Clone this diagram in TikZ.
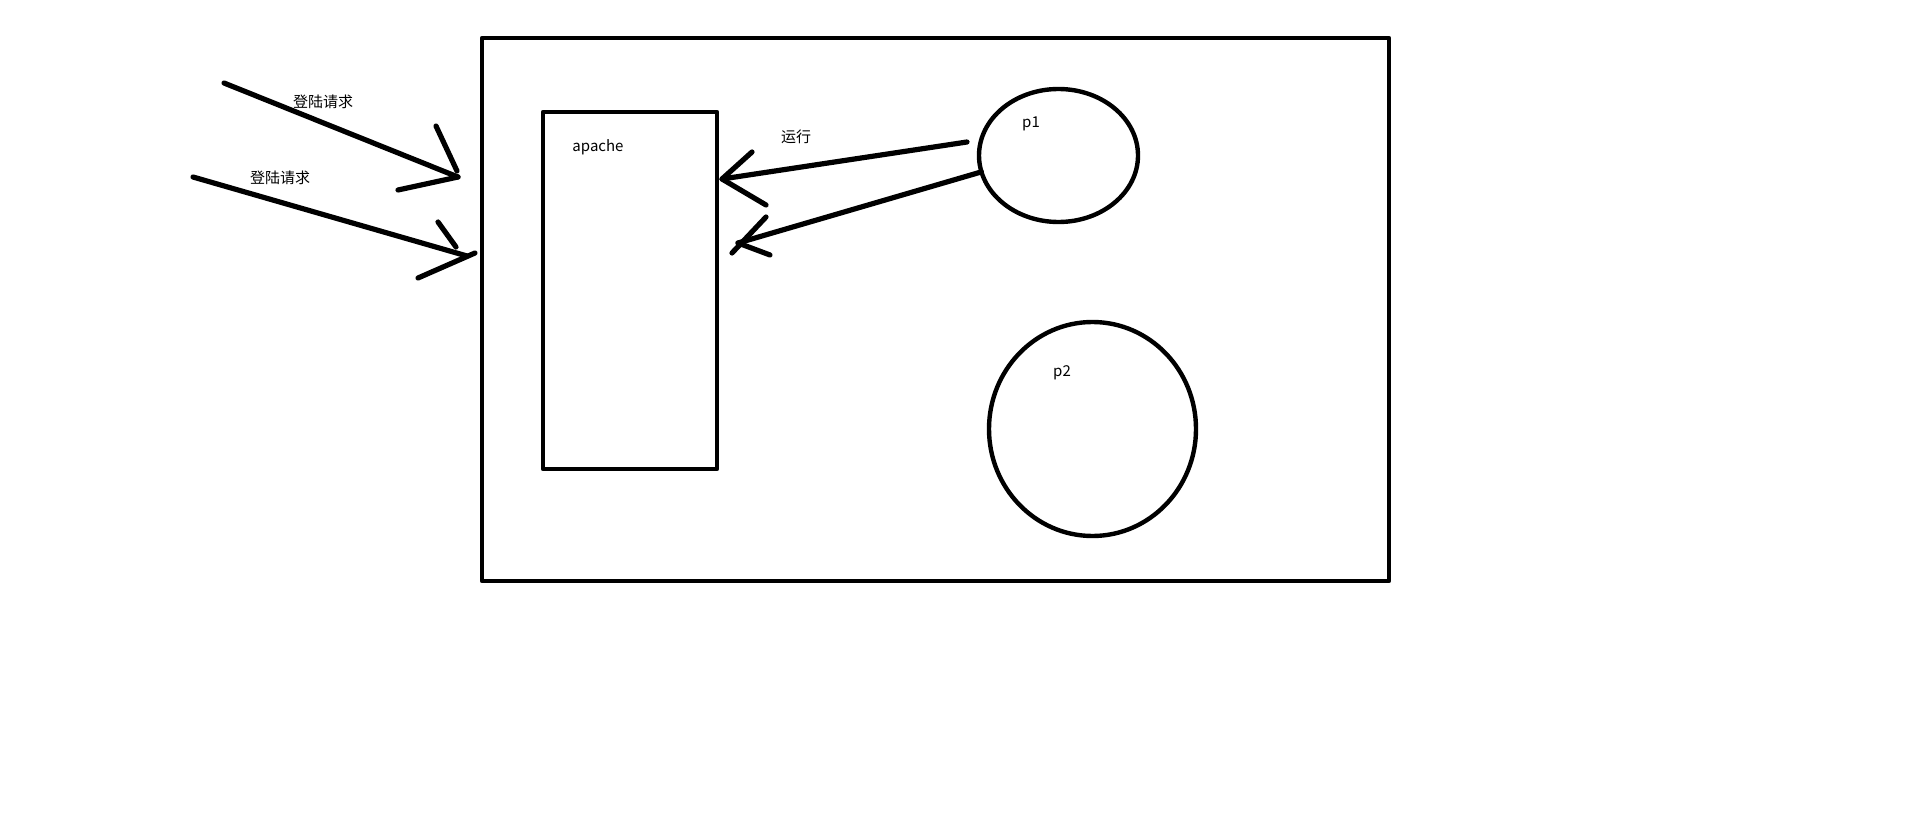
\documentclass[tikz,border=0pt]{standalone}
\usepackage{fontspec}
\setmainfont{Noto Sans CJK SC}
\usetikzlibrary{shapes.geometric}
\begin{document}
\begin{tikzpicture}[x=1pt,y=-1pt,line cap=round,line join=round,
  frame/.style={draw,line width=4.8pt,rectangle,inner sep=0pt,outer sep=0pt},
  blob/.style={draw,line width=4.4pt,ellipse,inner sep=0pt,outer sep=0pt},
  lbl/.style={inner sep=0pt,font=\fontsize{15}{17}\selectfont},
  stroke/.style={line width=5.2pt}]
\useasboundingbox (0,0) rectangle (1914,834);
\fill[white] (0,0) rectangle (1914,834);
% containers
\node[frame,minimum width=907pt,minimum height=543pt] (outer) at (935.5,309.5) {};
\node[frame,minimum width=174pt,minimum height=357pt] (apache) at (630,290.5) {};
\node[blob,minimum width=159pt,minimum height=133pt] (p1) at (1058.5,155.5) {};
\node[blob,minimum width=207pt,minimum height=214pt] (p2) at (1092.5,429) {};
% labels
\node[lbl] (tapache) at (598,147) {apache};
\node[lbl] (tp1) at (1031,124) {p1};
\node[lbl] (tp2) at (1062,373) {p2};
\node[lbl] (trun) at (796,137) {运行};
\node[lbl] (treq1) at (323,102) {登陆请求};
\node[lbl] (treq2) at (280,178) {登陆请求};
% login request arrows
\coordinate (a1s) at (224,83);
\coordinate (a1t) at (458,177);
\coordinate (a1h1) at (436,126);
\coordinate (a1h1e) at (457,171);
\coordinate (a1h2) at (398,190);
\coordinate (a2s) at (193,177);
\coordinate (a2t) at (467,256);
\coordinate (a2h1) at (438,222);
\coordinate (a2h1e) at (456,247);
\coordinate (a2h2) at (418,278);
\coordinate (a2h2e) at (475,253);
\draw[stroke] (a1s) -- (a1t);
\draw[stroke] (a1h1) -- (a1h1e);
\draw[stroke] (a1h2) -- (a1t);
\draw[stroke] (a2s) -- (a2t);
\draw[stroke] (a2h1) -- (a2h1e);
\draw[stroke] (a2h2) -- (a2h2e);
% run arrows
\coordinate (r1s) at (967,142);
\coordinate (r1t) at (722,179);
\coordinate (r1h1) at (752,152);
\coordinate (r1h2) at (766,205);
\coordinate (r2t) at (738,243);
\coordinate (r2h1) at (732,253);
\coordinate (r2h1e) at (766,217);
\coordinate (r2h2) at (770,255);
\draw[stroke] (r1s) -- (r1t);
\draw[stroke] (r1h1) -- (r1t) -- (r1h2);
\draw[stroke] (p1.192) -- (r2t);
\draw[stroke] (r2h1) -- (r2h1e);
\draw[stroke] (r2t) -- (r2h2);
\end{tikzpicture}
\end{document}
